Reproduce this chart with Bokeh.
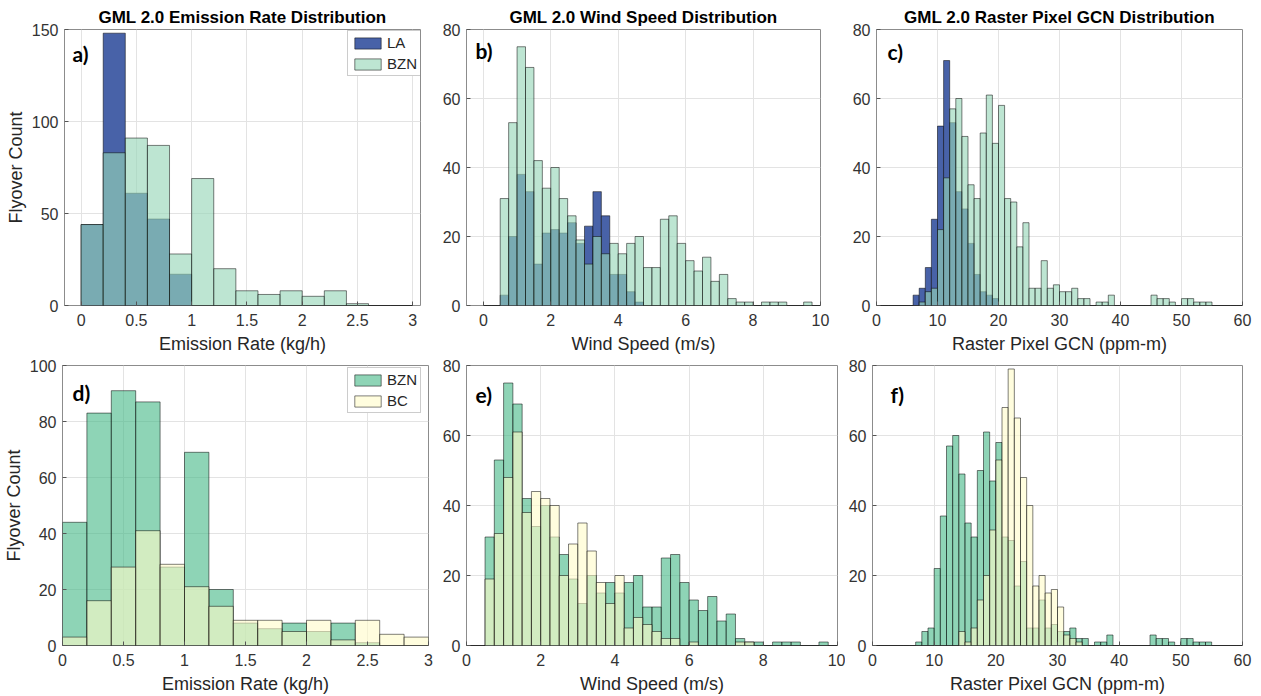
import numpy as np
from bokeh.plotting import figure
from bokeh.layouts import column, row
from bokeh.models import Range1d, Label, Legend, LegendItem, FixedTicker, ColumnDataSource
from bokeh.embed import file_html
from bokeh.resources import INLINE

# ---------------- data ----------------
# Emission rate (kg/h), bins of 0.2 from 0 to 3
er_edges = np.round(np.arange(0, 3.0001, 0.2), 2)
LA_er = [44, 148, 61, 47, 17, 0, 0, 0, 0, 0, 0, 0, 0, 0, 0]
BZN_er = [44, 83, 91, 87, 28, 69, 20, 8, 6, 8, 5, 8, 1, 0, 0]
BC_er = [3, 16, 28, 41, 29, 21, 14, 9, 9, 5, 9, 2, 9, 4, 3]

# Wind speed (m/s), bins of 0.25 from 0 to 10
ws_edges = np.round(np.arange(0, 10.0001, 0.25), 2)
LA_ws = [0, 0, 3, 20, 38, 33, 12, 21, 22, 21,
         24, 18, 23, 33, 26, 9, 9, 4, 1, 0,
         0, 0, 0, 0, 0, 0, 0, 0, 0, 0,
         0, 0, 0, 0, 0, 0, 0, 0, 0, 0]
BZN_ws = [0, 0, 31, 53, 75, 69, 42, 34, 40, 31,
          26, 19, 12, 20, 15, 18, 15, 18, 20, 11,
          11, 25, 26, 18, 13, 10, 14, 7, 9, 2,
          1, 1, 0, 1, 1, 1, 0, 0, 1, 0]
BC_ws = [0, 0, 19, 32, 48, 61, 38, 44, 42, 40,
         20, 29, 35, 27, 18, 12, 20, 5, 8, 6,
         4, 2, 2, 0, 1, 0, 0, 0, 0, 1,
         1, 0, 0, 0, 0, 0, 0, 0, 0, 0]

# Raster pixel GCN (ppm-m), bins of 1 from 0 to 60
gcn_edges = np.arange(0, 60.0001, 1.0)
LA_gcn = [0, 0, 0, 0, 0, 0, 3, 5, 11, 25,
          52, 71, 53, 33, 28, 18, 9, 4, 3, 2,
          0, 0, 0, 0, 0, 0, 0, 0, 0, 0,
          0, 0, 0, 0, 0, 0, 0, 0, 0, 0,
          0, 0, 0, 0, 0, 0, 0, 0, 0, 0,
          0, 0, 0, 0, 0, 0, 0, 0, 0, 0]
BZN_gcn = [0, 0, 0, 0, 0, 0, 0, 1, 4, 5,
           22, 37, 57, 60, 49, 35, 31, 50, 61, 47,
           58, 31, 30, 17, 24, 5, 5, 13, 5, 6,
           4, 4, 5, 2, 2, 0, 1, 1, 3, 0,
           0, 0, 0, 0, 0, 3, 2, 2, 1, 0,
           2, 2, 1, 1, 1, 0, 0, 0, 0, 0]
BC_gcn = [0, 0, 0, 0, 0, 0, 0, 0, 0, 0,
          0, 0, 0, 0, 4, 1, 5, 13, 20, 33,
          53, 68, 79, 65, 48, 40, 17, 20, 15, 16,
          11, 3, 2, 1, 0, 0, 0, 0, 0, 0,
          0, 0, 0, 0, 0, 0, 0, 0, 0, 0,
          0, 0, 0, 0, 0, 0, 0, 0, 0, 0]

titles = ["GML 2.0 Emission Rate Distribution", "GML 2.0 Wind Speed Distribution",
          "GML 2.0 Raster Pixel GCN Distribution"]
xlabels = ["Emission Rate (kg/h)", "Wind Speed (m/s)", "Raster Pixel GCN (ppm-m)"]
ylabel = "Flyover Count"
er_ticks = [0, 0.5, 1, 1.5, 2, 2.5, 3]
ws_ticks = [0, 2, 4, 6, 8, 10]
gcn_ticks = [0, 10, 20, 30, 40, 50, 60]

# ---------------- style ----------------
FONT = "Liberation Sans"
LA_COL, LA_A = "#4862A8", 1.0
BZN_TOP_COL, BZN_TOP_A = "#97D6B8", 0.63
BZN_BOT_COL, BZN_BOT_A = "#43B785", 0.6
BC_COL, BC_A = "#FFFCC8", 0.6


def make_fig(W, H, bl, br, bt, bb, xr, yr, xticks, yticks, xlabel, ylab=None, title=None):
    p = figure(width=W, height=H, output_backend="svg", toolbar_location=None,
               x_range=Range1d(*xr), y_range=Range1d(*yr),
               min_border_left=bl, min_border_right=br, min_border_top=bt, min_border_bottom=bb,
               title=title)
    p.background_fill_color = "white"
    p.border_fill_color = "white"
    p.outline_line_color = "#8c8c8c"
    p.outline_line_width = 1
    if title:
        p.title.text_font = FONT
        p.title.text_font_size = "17px"
        p.title.text_font_style = "bold"
        p.title.align = "center"
        p.title.text_color = "black"
        p.title.standoff = 5
        p.title.offset = 0
    p.xaxis.ticker = FixedTicker(ticks=xticks)
    p.yaxis.ticker = FixedTicker(ticks=yticks)
    p.xaxis.major_label_overrides = {t: ("%g" % t) for t in xticks}
    for ax in (p.xaxis[0], p.yaxis[0]):
        ax.axis_line_color = None
        ax.major_tick_in = 4
        ax.major_tick_out = 0
        ax.major_tick_line_color = "#555555"
        ax.minor_tick_line_color = None
        ax.major_label_text_font = FONT
        ax.major_label_text_font_size = "16px"
        ax.major_label_text_color = "#333333"
        ax.axis_label_text_font = FONT
        ax.axis_label_text_font_size = "18px"
        ax.axis_label_text_font_style = "normal"
        ax.axis_label_text_color = "#262626"
    p.xaxis.major_label_standoff = 8
    p.xaxis.axis_label = xlabel
    p.xaxis.axis_label_standoff = 5
    p.yaxis.major_label_standoff = 6
    if ylab:
        p.yaxis.axis_label = ylab
        p.yaxis.axis_label_standoff = 3
    p.grid.grid_line_color = "#e3e3e3"
    p.grid.grid_line_width = 1
    return p


def hist(p, edges, counts, fill, alpha):
    src = ColumnDataSource(dict(left=list(edges[:-1]), right=list(edges[1:]), top=counts,
                                bottom=[0] * len(counts)))
    return p.quad(left="left", right="right", top="top", bottom="bottom", source=src,
                  fill_color=fill, fill_alpha=alpha, line_color="black", line_alpha=0.5,
                  line_width=1)


def panel_label(p, txt, dx, dy, fw, fh):
    x0, x1 = p.x_range.start, p.x_range.end
    y0, y1 = p.y_range.start, p.y_range.end
    p.add_layout(Label(x=x0 + dx / fw * (x1 - x0), y=y1 - dy / fh * (y1 - y0), text=txt,
                       text_font="Lato", text_font_style="bold", text_font_size="21px",
                       text_baseline="middle", text_align="left", text_color="black"))


def add_legend(p, items, loc):
    lg = Legend(items=[LegendItem(label=l, renderers=[r]) for l, r in items], location=loc,
                orientation="vertical")
    lg.label_text_font = FONT
    lg.label_text_font_size = "15px"
    lg.label_text_color = "#262626"
    lg.glyph_width = 33
    lg.glyph_height = 14
    lg.label_height = 14
    lg.label_standoff = 3
    lg.padding = 3
    lg.spacing = 4
    lg.margin = 0
    lg.border_line_color = "#9a9a9a"
    lg.border_line_width = 1
    lg.background_fill_color = "white"
    lg.background_fill_alpha = 1
    p.add_layout(lg)


# ---------------- top row (y 0..356) ----------------
fa = make_fig(430, 356, 64, 10, 29, 50, (-0.15, 3.07), (0, 150), er_ticks, [0, 50, 100, 150],
              xlabels[0], ylabel, titles[0])
r1 = hist(fa, er_edges, LA_er, LA_COL, LA_A)
r2 = hist(fa, er_edges, BZN_er, BZN_TOP_COL, BZN_TOP_A)
add_legend(fa, [("LA", r1), ("BZN", r2)], (283, 229))
panel_label(fa, "a)", 8, 24, 356, 277)

fb = make_fig(416, 356, 36, 26, 28, 46, (-0.5, 10), (0, 80), ws_ticks, [0, 20, 40, 60, 80],
              xlabels[1], None, titles[1])
hist(fb, ws_edges, LA_ws, LA_COL, LA_A)
hist(fb, ws_edges, BZN_ws, BZN_TOP_COL, BZN_TOP_A)
panel_label(fb, "b)", 9, 21, 354, 282)

fc = make_fig(407, 356, 30, 11, 28, 48, (0, 60), (0, 80), gcn_ticks, [0, 20, 40, 60, 80],
              xlabels[2], None, titles[2])
hist(fc, gcn_edges, LA_gcn, LA_COL, LA_A)
hist(fc, gcn_edges, BZN_gcn, BZN_TOP_COL, BZN_TOP_A)
panel_label(fc, "c)", 11, 22, 366, 280)

# ---------------- bottom row (y 356..696) ----------------
fd = make_fig(438, 340, 62, 10, 9, 51, (0, 3), (0, 100), er_ticks, [0, 20, 40, 60, 80, 100],
              xlabels[0], ylabel, None)
r3 = hist(fd, er_edges, BZN_er, BZN_BOT_COL, BZN_BOT_A)
r4 = hist(fd, er_edges, BC_er, BC_COL, BC_A)
add_legend(fd, [("BZN", r3), ("BC", r4)], (285, 232))
panel_label(fd, "d)", 10, 27, 366, 280)

fe = make_fig(407, 340, 28, 8, 7, 50, (0, 10), (0, 80), ws_ticks, [0, 20, 40, 60, 80],
              xlabels[1], None, None)
hist(fe, ws_edges, BZN_ws, BZN_BOT_COL, BZN_BOT_A)
hist(fe, ws_edges, BC_ws, BC_COL, BC_A)
panel_label(fe, "e)", 9, 29, 371, 283)

ff = make_fig(408, 340, 27, 11, 7, 51, (0, 60), (0, 80), gcn_ticks, [0, 20, 40, 60, 80],
              xlabels[2], None, None)
hist(ff, gcn_edges, BZN_gcn, BZN_BOT_COL, BZN_BOT_A)
hist(ff, gcn_edges, BC_gcn, BC_COL, BC_A)
panel_label(ff, "f)", 18, 29, 370, 282)

layout = column(row(fa, fb, fc, spacing=0), row(fd, fe, ff, spacing=0), spacing=0)
open("out.html", "w").write(file_html(layout, INLINE))
